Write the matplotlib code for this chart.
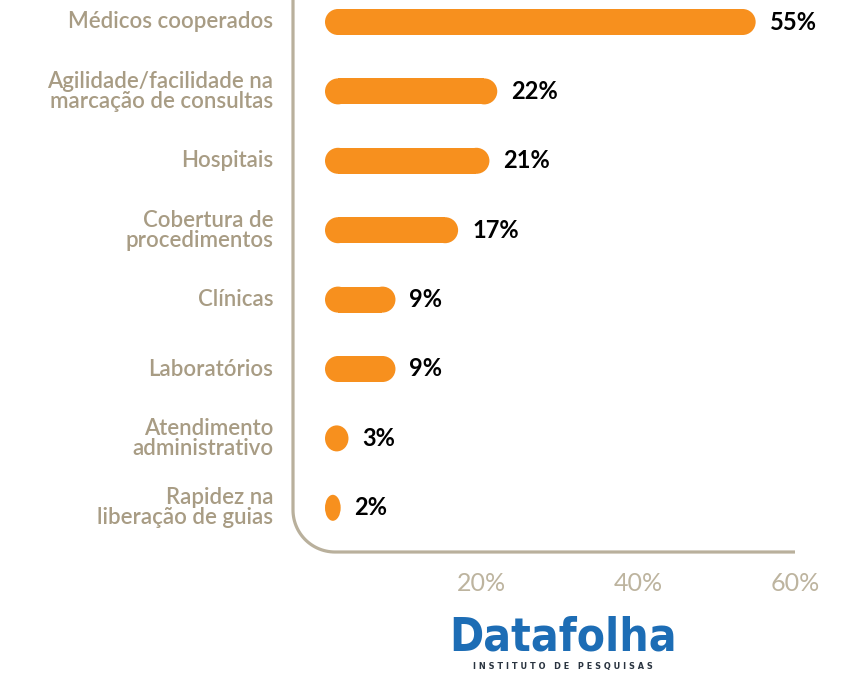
import matplotlib.pyplot as plt
import numpy as np
from matplotlib.patches import Rectangle, Ellipse

categories = [
    "Médicos cooperados",
    "Agilidade/facilidade na\nmarcação de consultas",
    "Hospitais",
    "Cobertura de\nprocedimentos",
    "Clínicas",
    "Laboratórios",
    "Atendimento\nadministrativo",
    "Rapidez na\nliberação de guias",
]
values = [55, 22, 21, 17, 9, 9, 3, 2]
tick_values = [20, 40, 60]
tick_labels = ["20%", "40%", "60%"]

ORANGE = "#f7901e"
BEIGE = "#b9b09c"
LABEL = "#a89c84"

W, H = 859, 675
fig = plt.figure(figsize=(W / 100, H / 100), dpi=100)

# axes placed in pixel terms: spine at x=293, baseline at y=552 (from top)
ax_left, ax_right, ax_top, ax_bottom = 293, 859, 0, 552
ax = fig.add_axes([ax_left / W, (H - ax_bottom) / H,
                   (ax_right - ax_left) / W, (ax_bottom - ax_top) / H])
px_per_unit = 7.83
x0_px = 325
ax.set_xlim((ax_left - x0_px) / px_per_unit, (ax_right - x0_px) / px_per_unit)
row_px = 69.4
first_px = 22
ax.set_ylim((ax_bottom - first_px) / row_px, (ax_top - first_px) / row_px)
ax.axis("off")

bar_h = 26 / row_px
r = 13 / px_per_unit  # cap radius in x data units

for i, v in enumerate(values):
    if v <= 2 * r:
        ax.add_patch(Ellipse((v / 2, i), v, bar_h, color=ORANGE, lw=0))
    else:
        ax.add_patch(Rectangle((r, i - bar_h / 2), v - 2 * r, bar_h, color=ORANGE, lw=0))
        ax.add_patch(Ellipse((r, i), 2 * r, bar_h, color=ORANGE, lw=0))
        ax.add_patch(Ellipse((v - r, i), 2 * r, bar_h, color=ORANGE, lw=0))
    ax.annotate(f"{v}%", (v, i), xytext=(10, 0), textcoords="offset points",
                ha="left", va="center", fontsize=17, fontweight="bold",
                color="black", family="Lato")
    ax.annotate(categories[i], (0, i), xycoords="data", xytext=(-52 / 1.389, 0),
                textcoords="offset points", ha="right", va="center",
                fontsize=16, color=LABEL, family="Lato", fontweight="semibold",
                linespacing=0.95, annotation_clip=False)

for tv, tl in zip(tick_values, tick_labels):
    ax.annotate(tl, (tv, 0), xycoords=("data", "axes fraction"), xytext=(0, -22.5),
                textcoords="offset points", ha="center", va="center",
                fontsize=18, color="#bdb49f", family="Lato", annotation_clip=False)

# rounded L-shaped frame
rad = 42
t = np.linspace(np.pi, 1.5 * np.pi, 30)
xs = np.concatenate([[293], 293 + rad + rad * np.cos(t), [795]])
ys = np.concatenate([[0], 552 - rad - rad * np.sin(t), [552]])
fig.add_artist(plt.Line2D(xs / W, (H - ys) / H, color=BEIGE, lw=2.3,
                          transform=fig.transFigure, solid_capstyle="butt"))

# logo
fig.text(563 / W, (H - 638) / H, "Datafolha", ha="center", va="center",
         fontsize=33, fontweight="bold", color="#1d6db5",
         family="DejaVu Sans", fontstretch="condensed")
fig.text(563 / W, (H - 666) / H, "I N S T I T U T O   D E   P E S Q U I S A S",
         ha="center", va="center", fontsize=6.5, fontweight="bold",
         color="#2a3440", family="DejaVu Sans", fontstretch="condensed")

fig.savefig("out.png", dpi=100)
